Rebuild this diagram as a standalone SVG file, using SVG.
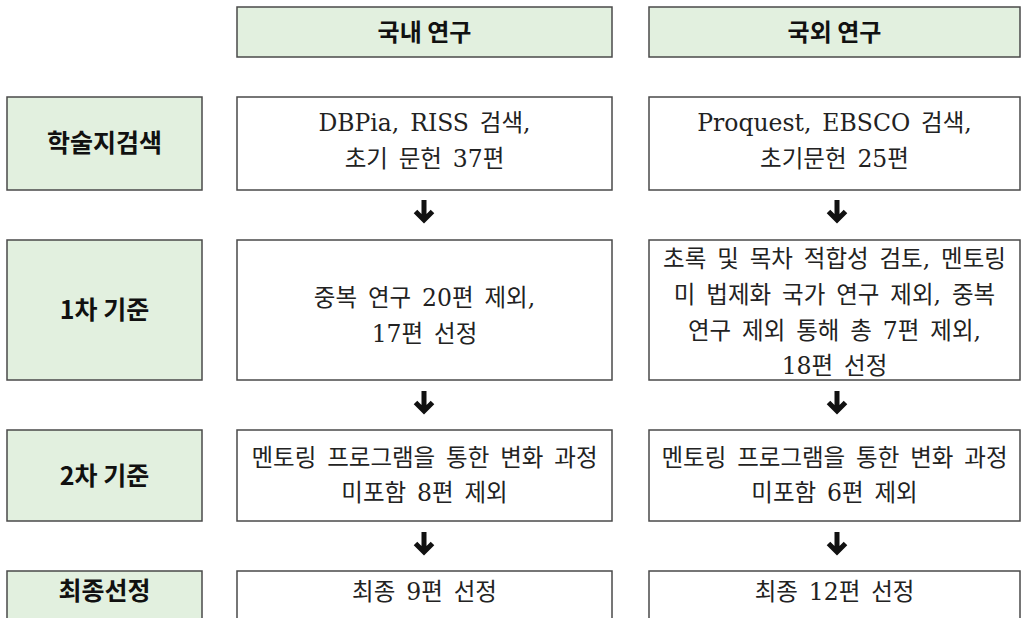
<svg xmlns="http://www.w3.org/2000/svg" width="1021" height="618" viewBox="0 0 1021 618">
<style>
.box{stroke:#4a4a4a;stroke-width:1.5}
.g{fill:#E2F0DF}
.w{fill:#ffffff}
.hd{font-family:"Noto Sans CJK KR","Liberation Sans",sans-serif;font-weight:bold;font-size:24px;fill:#111;text-anchor:middle}
.lb{font-family:"Noto Sans CJK KR","Liberation Sans",sans-serif;font-weight:bold;font-size:25px;fill:#111;text-anchor:middle}
.tx{font-family:"DejaVu Serif","Noto Sans CJK KR",serif;font-size:23.5px;fill:#222;text-anchor:middle;word-spacing:3.4px}
.ar{fill:none;stroke:#111;stroke-width:5;stroke-linejoin:miter}
</style>
<defs>
<g id="arrow"><path class="ar" d="M0,0 V20 M-8.5,11.5 L0,20 L8.5,11.5"/></g>
</defs>
<rect width="1021" height="618" fill="#ffffff"/>
<g id="header-domestic"><rect class="box g" x="237" y="7" width="375" height="50"/><text class="hd" x="424.5" y="41">국내 연구</text></g>
<g id="header-foreign"><rect class="box g" x="649" y="7" width="371" height="50"/><text class="hd" x="834.5" y="41">국외 연구</text></g>

<g id="stage-search"><rect class="box g" x="7" y="97" width="195" height="93"/><text class="lb" x="104.5" y="152">학술지검색</text></g>
<g id="stage-first"><rect class="box g" x="7" y="240" width="195" height="140"/><text class="lb" x="104.5" y="319">1차 기준</text></g>
<g id="stage-second"><rect class="box g" x="7" y="430" width="195" height="91"/><text class="lb" x="104.5" y="485">2차 기준</text></g>
<g id="stage-final"><rect class="box g" x="7" y="571" width="195" height="60"/><text class="lb" x="104.5" y="600">최종선정</text></g>

<g id="dom-search"><rect class="box w" x="237" y="97" width="375" height="93"/><text class="tx" x="424.5" y="131">DBPia, RISS 검색,</text><text class="tx" x="424.5" y="167">초기 문헌 37편</text></g>
<g id="for-search"><rect class="box w" x="649" y="97" width="371" height="93"/><text class="tx" x="834.5" y="131">Proquest, EBSCO 검색,</text><text class="tx" x="834.5" y="167">초기문헌 25편</text></g>

<g id="dom-first"><rect class="box w" x="237" y="240" width="375" height="140"/><text class="tx" x="424.5" y="306">중복 연구 20편 제외,</text><text class="tx" x="424.5" y="342">17편 선정</text></g>
<g id="for-first"><rect class="box w" x="649" y="240" width="371" height="140"/><text class="tx" x="834.5" y="267">초록 및 목차 적합성 검토, 멘토링</text><text class="tx" x="834.5" y="303">미 법제화 국가 연구 제외, 중복</text><text class="tx" x="834.5" y="339">연구 제외 통해 총 7편 제외,</text><text class="tx" x="834.5" y="374">18편 선정</text></g>

<g id="dom-second"><rect class="box w" x="237" y="430" width="375" height="91"/><text class="tx" x="424.5" y="466">멘토링 프로그램을 통한 변화 과정</text><text class="tx" x="424.5" y="501">미포함 8편 제외</text></g>
<g id="for-second"><rect class="box w" x="649" y="430" width="371" height="91"/><text class="tx" x="834.5" y="466">멘토링 프로그램을 통한 변화 과정</text><text class="tx" x="834.5" y="501">미포함 6편 제외</text></g>

<g id="dom-final"><rect class="box w" x="237" y="571" width="375" height="60"/><text class="tx" x="424.5" y="600">최종 9편 선정</text></g>
<g id="for-final"><rect class="box w" x="649" y="571" width="371" height="60"/><text class="tx" x="834.5" y="600">최종 12편 선정</text></g>

<g id="connectors">
<use href="#arrow" x="424" y="200"/>
<use href="#arrow" x="837" y="200"/>
<use href="#arrow" x="424" y="391"/>
<use href="#arrow" x="837" y="391"/>
<use href="#arrow" x="424" y="532"/>
<use href="#arrow" x="837" y="532"/>
</g>
</svg>
